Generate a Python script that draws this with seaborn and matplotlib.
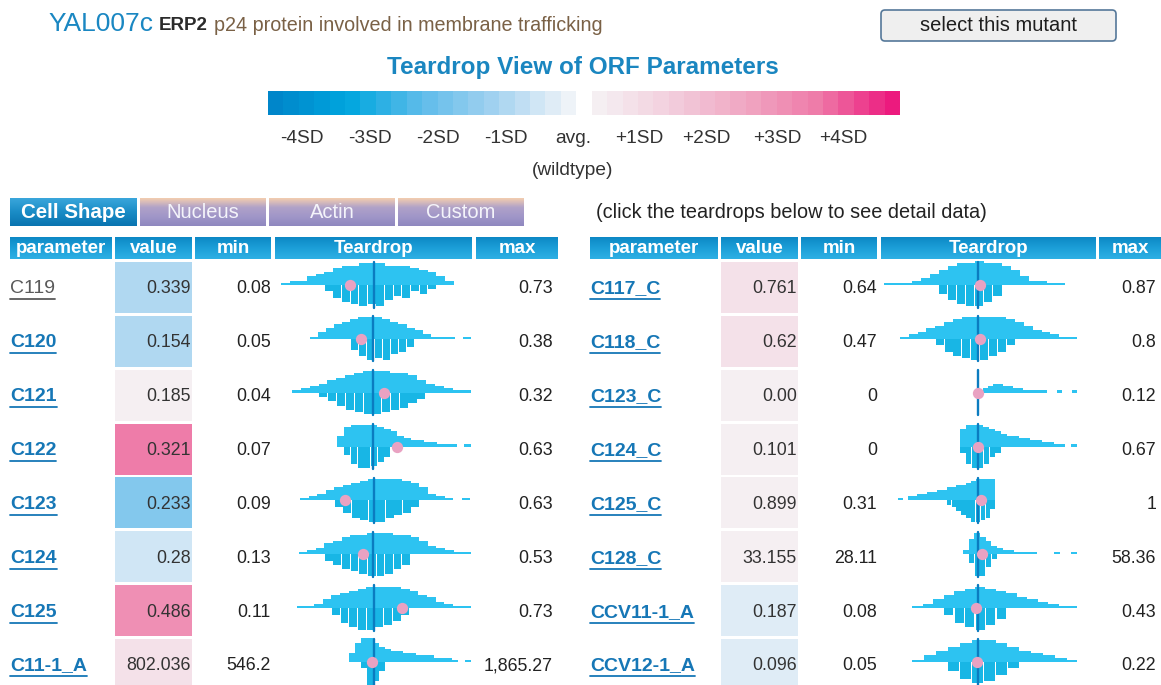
import numpy as np
import matplotlib
matplotlib.use("Agg")
import matplotlib.pyplot as plt
from matplotlib.colors import ListedColormap, LinearSegmentedColormap
from matplotlib.patches import Rectangle, FancyBboxPatch
import seaborn as sns

sns.set_theme(style="white")
plt.rcParams["font.family"] = ["Liberation Sans", "DejaVu Sans"]

W, H = 1161, 685

# ---- data ----
orf_name = "YAL007c"
gene_name = "ERP2"
gene_desc = "p24 protein involved in membrane trafficking"
sd_labels = ["-4SD", "-3SD", "-2SD", "-1SD", "avg.", "+1SD", "+2SD", "+3SD", "+4SD"]
tabs = ["Cell Shape", "Nucleus", "Actin", "Custom"]
columns = ["parameter", "value", "min", "Teardrop", "max"]

left_params = ["C119", "C120", "C121", "C122", "C123", "C124", "C125", "C11-1_A"]
left_values = [0.339, 0.154, 0.185, 0.321, 0.233, 0.28, 0.486, 802.036]
left_min = [0.08, 0.05, 0.04, 0.07, 0.09, 0.13, 0.11, 546.2]
left_max = [0.73, 0.38, 0.32, 0.63, 0.63, 0.53, 0.73, 1865.27]
left_z = [-1.05, -0.95, 0.1, 3.2, -1.7, -0.5, 2.9, 0.5]     # SD from wildtype avg (cell colour)
left_mean = [0.428, 0.18, 0.168, 0.222, 0.322, 0.304, 0.384, 816.0]
left_sd = [0.0943, 0.0515, 0.0391, 0.105, 0.0794, 0.0581, 0.0891, 270.0]
left_top = [
    [1, 2, 2, 4, 5, 6, 8, 9, 9, 10, 10, 10, 9, 9, 9, 8, 7, 6, 4, 2],
    [1, 3, 5, 7, 8, 9, 10, 10, 10, 9, 8, 7, 5, 4, 2, 1, 1, 1, 0, 1],
    [1, 2, 3, 4, 6, 7, 8, 9, 10, 10, 10, 9, 9, 8, 6, 4, 3, 2, 1, 1],
    [5, 9, 10, 10, 10, 10, 9, 8, 7, 5, 4, 3, 3, 2, 2, 1, 1, 1, 0, 1],
    [1, 2, 3, 5, 6, 7, 8, 9, 10, 10, 10, 10, 9, 8, 6, 3, 2, 1, 0, 1],
    [1, 2, 3, 5, 6, 8, 9, 9, 10, 10, 10, 9, 9, 8, 6, 4, 3, 2, 1, 1],
    [1, 1, 2, 4, 6, 7, 8, 9, 10, 10, 10, 10, 9, 8, 6, 5, 3, 2, 1, 1],
    [4, 9, 11, 11, 9, 7, 6, 5, 5, 4, 4, 3, 3, 3, 2, 2, 2, 1, 0, 1],
]
left_bottom = [
    [0, 0, 0, 0, 0, 3, 6, 8, 9, 10, 9, 10, 7, 5, 6, 3, 4, 2, 0, 0],
    [0, 0, 0, 0, 0, 5, 8, 10, 9, 10, 7, 6, 4, 0, 0, 0, 0, 0, 0, 0],
    [0, 0, 0, 2, 4, 6, 8, 9, 10, 10, 9, 8, 7, 5, 3, 0, 0, 0, 0, 0],
    [0, 4, 8, 10, 10, 9, 7, 5, 0, 0, 0, 0, 0, 0, 0, 0, 0, 0, 0, 0],
    [0, 0, 0, 0, 3, 6, 8, 9, 10, 10, 8, 7, 6, 3, 0, 0, 0, 0, 0, 0],
    [0, 0, 0, 3, 5, 7, 8, 9, 10, 10, 9, 7, 5, 0, 0, 0, 0, 0, 0, 0],
    [0, 0, 0, 0, 3, 7, 9, 10, 10, 9, 8, 6, 3, 0, 0, 0, 0, 0, 0, 0],
    [0, 0, 3, 11, 9, 4, 0, 0, 0, 0, 0, 0, 0, 0, 0, 0, 0, 0, 0, 0],
]

right_params = ["C117_C", "C118_C", "C123_C", "C124_C", "C125_C", "C128_C", "CCV11-1_A", "CCV12-1_A"]
right_values = [0.761, 0.62, 0.0, 0.101, 0.899, 33.155, 0.187, 0.096]
right_min = [0.64, 0.47, 0, 0, 0.31, 28.11, 0.08, 0.05]
right_max = [0.87, 0.8, 0.12, 0.67, 1, 58.36, 0.43, 0.22]
right_z = [0.5, 0.5, 0.0, 0.0, 0.0, 0.0, -0.4, -0.4]
right_mean = [0.759, 0.6155, 0.0, 0.103, 0.879, 32.1, 0.19, 0.097]
right_sd = [0.0318, 0.0466, 0.0303, 0.143, 0.178, 6.63, 0.0417, 0.0178]
right_top = [
    [1, 1, 1, 2, 3, 5, 7, 9, 10, 10, 11, 10, 10, 9, 7, 4, 2, 2, 1, 1],
    [1, 2, 3, 5, 6, 8, 9, 10, 10, 10, 10, 10, 9, 8, 6, 4, 3, 2, 1, 1],
    [0, 2, 3, 4, 4, 3, 3, 2, 2, 1, 1, 1, 1, 1, 0, 0, 1, 0, 0, 1],
    [8, 10, 10, 10, 9, 8, 7, 6, 5, 5, 4, 4, 3, 3, 2, 2, 1, 1, 0, 1],
    [1, 0, 2, 2, 3, 3, 4, 4, 5, 5, 6, 6, 7, 7, 8, 9, 10, 10, 10, 10],
    [2, 7, 10, 8, 6, 4, 3, 2, 2, 1, 1, 1, 1, 0, 0, 0, 1, 0, 0, 1],
    [1, 2, 4, 6, 8, 9, 10, 9, 8, 7, 5, 4, 3, 2, 1, 1, 0, 0, 0, 0],
    [1, 3, 5, 7, 9, 10, 10, 9, 7, 5, 4, 3, 2, 1, 0, 0, 0, 0, 0, 0],
]
right_bottom = [
    [0, 0, 0, 0, 0, 0, 4, 7, 9, 10, 10, 8, 5, 0, 0, 0, 0, 0, 0, 0],
    [0, 0, 0, 0, 3, 6, 8, 9, 10, 10, 8, 6, 3, 0, 0, 0, 0, 0, 0, 0],
    [0, 0, 0, 0, 0, 0, 0, 0, 0, 0, 0, 0, 0, 0, 0, 0, 0, 0, 0, 0],
    [3, 8, 10, 10, 8, 5, 3, 0, 0, 0, 0, 0, 0, 0, 0, 0, 0, 0, 0, 0],
    [0, 0, 0, 0, 0, 0, 0, 0, 0, 0, 2, 3, 5, 7, 8, 10, 10, 9, 8, 4],
    [0, 4, 10, 10, 6, 2, 0, 0, 0, 0, 0, 0, 0, 0, 0, 0, 0, 0, 0, 0],
    [0, 0, 0, 3, 7, 9, 10, 8, 5, 0, 0, 0, 0, 0, 0, 0, 0, 0, 0, 0],
    [0, 0, 0, 4, 8, 10, 9, 6, 3, 0, 0, 0, 0, 0, 0, 0, 0, 0, 0, 0],
]

# ---- colours ----
BLUE = "#1a87c2"
blue_pal = sns.blend_palette(["#0086ca", "#00a6de", "#5fbcea", "#a4d2f0", "#eef3f8"], 20)
pink_pal = sns.blend_palette(["#f5eff2", "#f2cddc", "#f0a6c2", "#ee7aa8", "#ec1a7e"], 20)
SD_STEP = 0.2257


def z_colour(z):
    if z < 0:
        return blue_pal[max(0, 19 - int(-z / SD_STEP))]
    return pink_pal[min(19, int(z / SD_STEP))]


def fmt_num(v):
    return f"{v:,.2f}".rstrip("0").rstrip(".")


def fmt_val(v):
    s = f"{v:,.3f}".rstrip("0")
    return s + "00" if s.endswith(".") else s


fig = plt.figure(figsize=(W / 100, H / 100), dpi=100)
ax = fig.add_axes([0, 0, 1, 1])
ax.axis("off")


def px_axes(x0, y0, w, h):
    return fig.add_axes([x0 / W, 1 - (y0 + h) / H, w / W, h / H])


def grad_box(x0, y0, x1, y1, colors, z=1):
    cm = LinearSegmentedColormap.from_list("g", colors)
    ax.imshow(np.linspace(0, 1, 64).reshape(-1, 1), cmap=cm, aspect="auto",
              extent=(x0, x1, y1, y0), origin="upper", zorder=z, interpolation="bilinear")


# ---- header line ----
t1 = ax.text(48, 24, orf_name, fontsize=19, color=BLUE, va="center")
fig.canvas.draw()
r = fig.canvas.get_renderer()
x_after = 48 + t1.get_window_extent(r).width + 6
t2 = ax.text(x_after, 25, gene_name, fontsize=13.5, fontweight="bold", color="#2b2b2b", va="center")
x_after += t2.get_window_extent(r).width + 6
ax.text(x_after, 25, gene_desc, fontsize=14.2, color="#7a6146", va="center")

# button
ax.add_patch(FancyBboxPatch((881, 10), 235, 31, boxstyle="round,pad=0,rounding_size=4",
                            fc="#efefef", ec="#557899", lw=1.2, zorder=2))
ax.text(998.5, 25, "select this mutant", fontsize=14.5, color="#1e1e1e", ha="center", va="center", zorder=3)

ax.text(583, 67, "Teardrop View of ORF Parameters", fontsize=17.5, fontweight="bold",
        color="#1a86c0", ha="center", va="center")

# colour scale legend
cax = px_axes(268, 91, 632, 24)
cb_colors = list(blue_pal) + ["#ffffff"] + list(pink_pal)
sns.heatmap(np.arange(len(cb_colors)).reshape(1, -1), cmap=ListedColormap(cb_colors), cbar=False,
            ax=cax, xticklabels=False, yticklabels=False)
for lab, x in zip(sd_labels, [302, 370, 438, 506, 573, 639, 706, 777, 843]):
    ax.text(x, 138, lab, fontsize=13.8, color="#333333", ha="center", va="center")
ax.text(573, 170, "(wildtype)", fontsize=13.8, color="#333333", ha="center", va="center")

# tabs
tab_x = [(10, 137), (140, 266), (269, 395), (398, 524)]
for i, (name, (x0, x1)) in enumerate(zip(tabs, tab_x)):
    if i == 0:
        grad_box(x0, 198, x1, 226, ["#3aa6db", "#1a8cc6", "#0a74b0"])
        ax.text((x0 + x1) / 2, 212, name, fontsize=14.8, fontweight="bold", color="white",
                ha="center", va="center", zorder=3)
    else:
        grad_box(x0, 198, x1, 226, ["#f3cdb0", "#b0a2c8", "#a096c8", "#8f88bf"])
        ax.text((x0 + x1) / 2, 212, name, fontsize=14.5, color="#f4f4fa",
                ha="center", va="center", zorder=3)
ax.text(596, 212, "(click the teardrops below to see detail data)", fontsize=14.3,
        color="#222222", va="center")

# tables
ROW0, PITCH, CELL_H = 262, 53.86, 51
PX_SD = 25.0
TD_HALF = 98.5
tables = [
    dict(cols=[(10, 112), (115, 192), (195, 271), (275, 472), (476, 558)], td_c=373.5,
         params=left_params, values=left_values, mins=left_min, maxs=left_max, z=left_z,
         mean=left_mean, sd=left_sd, top=left_top, bottom=left_bottom),
    dict(cols=[(590, 718), (721, 798), (801, 877), (881, 1096), (1099, 1161)], td_c=978,
         params=right_params, values=right_values, mins=right_min, maxs=right_max, z=right_z,
         mean=right_mean, sd=right_sd, top=right_top, bottom=right_bottom),
]

underline = []
for tb in tables:
    cols = tb["cols"]
    for (x0, x1), name in zip(cols, columns):
        grad_box(x0, 237, x1, 259, ["#0d88c5", "#1c9fd8", "#2eb0e4"])
        ax.text((x0 + x1) / 2, 248, name, fontsize=13.5, fontweight="bold", color="white",
                ha="center", va="center", zorder=3)
    for i in range(len(tb["params"])):
        top_y = ROW0 + i * PITCH
        cy = top_y + PITCH / 2
        vx0, vx1 = cols[1]
        ax.add_patch(Rectangle((vx0, top_y), vx1 - vx0, CELL_H, fc=z_colour(tb["z"][i]), ec="none", zorder=1))
        visited = tb["params"][i] == "C119"
        t = ax.text(cols[0][0], cy, tb["params"][i], fontsize=14,
                    fontweight="normal" if visited else "bold",
                    color="#5a5a5a" if visited else "#1677b6", va="center", zorder=3)
        underline.append((t, cy, "#5a5a5a" if visited else "#1677b6"))
        ax.text(vx1 - 1, cy, fmt_val(tb["values"][i]), fontsize=12.8, color="#333333",
                ha="right", va="center", zorder=3)
        ax.text(cols[2][1], cy, fmt_num(tb["mins"][i]), fontsize=12.8, color="#222222",
                ha="right", va="center", zorder=3)
        ax.text(cols[4][1] - 5, cy, fmt_num(tb["maxs"][i]), fontsize=12.8, color="#222222",
                ha="right", va="center", zorder=3)

        # teardrop: wildtype distribution above the baseline, spread below
        mean, sd = tb["mean"][i], tb["sd"][i]
        mn, mx = tb["mins"][i], tb["maxs"][i]
        nb = len(tb["top"][i])
        edges = np.linspace(mn, mx, nb + 1)
        centers = (edges[:-1] + edges[1:]) / 2
        tax = px_axes(tb["td_c"] - TD_HALF, top_y - 4, 2 * TD_HALF, PITCH)
        sns.histplot(x=centers, weights=np.array(tb["top"][i], float), bins=nb, binrange=(mn, mx),
                     color="#2dc3f1", alpha=1, linewidth=0, ax=tax)
        sns.histplot(x=centers, weights=-np.array(tb["bottom"][i], float), bins=nb, binrange=(mn, mx),
                     color="#18b6e5", alpha=1, linewidth=0, shrink=0.9, ax=tax)
        tax.plot([mean, mean], [-10.5, 10.5], color="#0b7cc0", lw=1.7)
        tax.scatter([tb["values"][i]], [0], s=66, color="#e9a2c2", zorder=5, linewidths=0)
        tax.set_xlim(mean - TD_HALF / PX_SD * sd, mean + TD_HALF / PX_SD * sd)
        tax.set_ylim(-12.5, 12.5)
        tax.axis("off")
        tax.patch.set_alpha(0)

ax.set_xlim(0, W)
ax.set_ylim(H, 0)

fig.canvas.draw()
inv = ax.transData.inverted()
for t, cy, c in underline:
    bb = t.get_window_extent(r)
    (xa, _), (xb, _) = inv.transform([[bb.x0, 0], [bb.x1, 0]])
    ax.plot([xa, xb], [cy + 10.5, cy + 10.5], color=c, lw=1.3, zorder=3)
ax.set_xlim(0, W)
ax.set_ylim(H, 0)

fig.savefig("out.png", dpi=100)
